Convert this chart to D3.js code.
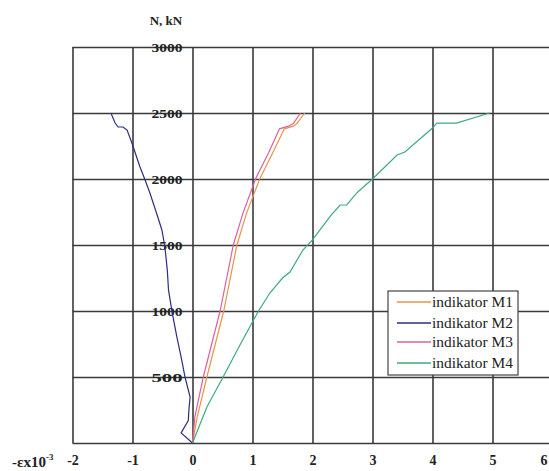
<!DOCTYPE html>
<html><head><meta charset="utf-8">
<script src="https://cdn.jsdelivr.net/npm/d3@7"></script>
<style>
html,body{margin:0;padding:0;background:#fff;}
svg{display:block;}
</style></head>
<body><svg id="c" width="549" height="471"></svg>
<script>
const xTicks = [-2,-1,0,1,2,3,4,5,6];
const yTicks = [500,1000,1500,2000,2500,3000];
const seriesNames = ["indikator M1","indikator M2","indikator M3","indikator M4"];
const seriesColors = ["#e0974a","#2d2f7e","#df5f9c","#3cab7c"];
// strain (-ε x10^-3), axial force N (kN)
const m1Eps = [0,0.08,0.24,0.52,0.74,0.90,1.12,1.34,1.53,1.68,1.74,1.87];
const m1N   = [0,200,500,1000,1500,1740,2000,2200,2380,2400,2420,2500];
const m2Eps = [0,-0.19,-0.07,-0.06,-0.04,-0.125,-0.18,-0.26,-0.34,-0.40,-0.42,-0.46,-0.51,-0.60,-0.71,-0.79,-0.875,-1.01,-1.09,-1.16,-1.24,-1.29,-1.36];
const m2N   = [0,76,170,250,348,500,629,803,992,1160,1310,1485,1614,1742,1894,1992,2091,2273,2371,2394,2394,2424,2500];
const m3Eps = [0,0.04,0.18,0.46,0.68,0.84,1.05,1.27,1.45,1.60,1.68,1.80];
const m3N   = [0,200,500,1000,1500,1740,2000,2200,2380,2400,2420,2500];
const m4Eps = [0,0.24,0.51,0.80,1.10,1.29,1.50,1.625,1.84,2.0,2.3,2.46,2.57,2.75,3.0,3.41,3.54,4.0,4.07,4.4,4.95];
const m4N   = [0,273,500,750,1000,1136,1250,1295,1462,1538,1720,1803,1803,1900,2000,2182,2205,2386,2424,2424,2500];

const svg = d3.select("#c");
const x = d3.scaleLinear().domain([-2,6]).range([72.5,552.5]);
const y = d3.scaleLinear().domain([0,3000]).range([443,47]);
const serif = "'Liberation Serif','Times New Roman',serif";

// vertical grid + x labels
const gx = svg.append("g").attr("transform",`translate(0,${y(0)})`)
  .call(d3.axisBottom(x).tickValues(xTicks).tickSize(-(y(0)-y(3000))).tickPadding(12).tickFormat(d3.format("d")));
gx.select(".domain").remove();
gx.selectAll("line").attr("stroke","#3a3a3a").attr("stroke-width",1.6);
gx.selectAll("text").attr("font-family",serif).attr("font-weight","bold").attr("font-size",14).attr("fill","#222")
  .text(d=>d<0?"-"+Math.abs(d):d);
gx.selectAll(".tick").filter(d=>d===6).select("text").attr("dx",-9);

// horizontal grid
const gyGrid = svg.append("g").attr("transform",`translate(${x(-2)},0)`)
  .call(d3.axisLeft(y).tickValues([0].concat(yTicks)).tickSize(-(x(6)-x(-2))).tickFormat(""));
gyGrid.select(".domain").remove();
gyGrid.selectAll("line").attr("stroke","#3a3a3a").attr("stroke-width",1.6);

// y labels at zero line
const gy = svg.append("g").attr("transform",`translate(${x(0)},0)`)
  .call(d3.axisLeft(y).tickValues(yTicks).tickSize(0).tickPadding(10).tickFormat(d3.format("d")));
gy.select(".domain").remove();
gy.selectAll("text").attr("font-family",serif).attr("font-weight","bold").attr("font-size",12.5).attr("fill","#222")
  .attr("textLength",31).attr("lengthAdjust","spacingAndGlyphs");

// axis titles
svg.append("text").attr("x",166).attr("y",25).attr("text-anchor","middle")
  .attr("font-family",serif).attr("font-weight","bold").attr("font-size",13).attr("fill","#222").text("N, kN");
const xt = svg.append("text").attr("x",12).attr("y",467)
  .attr("font-family",serif).attr("font-weight","bold").attr("font-size",15).attr("fill","#222");
xt.append("tspan").text("-εx10");
xt.append("tspan").attr("dy",-7).attr("font-size",9).text("-3");

// series
const series = [[m1Eps,m1N],[m2Eps,m2N],[m3Eps,m3N],[m4Eps,m4N]];
const line = d3.line().x(d=>x(d[0])).y(d=>y(d[1]));
series.forEach((s,i)=>{
  const pts = s[0].map((e,j)=>[e,s[1][j]]);
  svg.append("path").datum(pts).attr("d",line).attr("fill","none")
    .attr("stroke",seriesColors[i]).attr("stroke-width",1.2);
});

// legend
const lg = svg.append("g");
lg.append("rect").attr("x",388).attr("y",291).attr("width",130).attr("height",84)
  .attr("fill","#fff").attr("stroke","#444").attr("stroke-width",1.2);
const ly = [302,323,342,363];
seriesNames.forEach((n,i)=>{
  lg.append("line").attr("x1",397).attr("x2",431).attr("y1",ly[i]).attr("y2",ly[i])
    .attr("stroke",seriesColors[i]).attr("stroke-width",1.4);
  lg.append("text").attr("x",432).attr("y",ly[i]+4.5).attr("font-family",serif).attr("font-size",14)
    .attr("fill","#222").attr("textLength",81).attr("lengthAdjust","spacingAndGlyphs").text(n);
});
</script></body></html>
